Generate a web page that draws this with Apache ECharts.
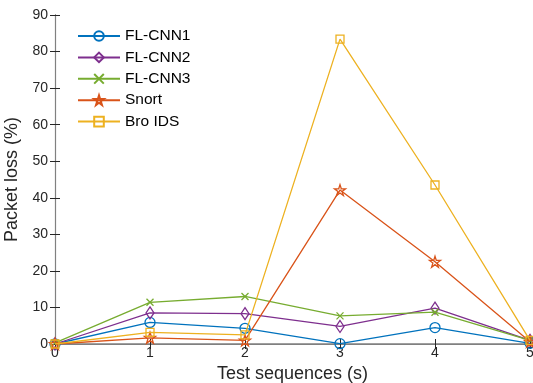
<!DOCTYPE html>
<html><head><meta charset="utf-8">
<script src="https://cdn.jsdelivr.net/npm/echarts@6/dist/echarts.min.js"></script>
<style>html,body{margin:0;padding:0;background:#fff}#c{width:533px;height:383px}</style>
</head><body><div id="c"></div>
<script>
var xValues = [0, 1, 2, 3, 4, 5];
var seriesNames = ['FL-CNN1', 'FL-CNN2', 'FL-CNN3', 'Snort', 'Bro IDS'];
var flCnn1 = [0, 5.9, 4.3, 0.1, 4.5, 0.2];
var flCnn2 = [0, 8.5, 8.3, 4.8, 9.8, 1.0];
var flCnn3 = [0.3, 11.4, 13.0, 7.7, 8.7, 1.0];
var snort = [0, 1.7, 1.0, 42.1, 22.5, 0.6];
var broIds = [0, 3.2, 2.5, 83.4, 43.5, 1.0];
var yTicks = [0, 10, 20, 30, 40, 50, 60, 70, 80, 90];

var colors = ['#0072BD', '#7E2F8E', '#77AC30', '#D95319', '#EDB120'];
var symbols = [
  'circle',
  'diamond',
  'path://M0,0L10,10M10,0L0,10',
  'path://M50,0L61.8,35.3L100,35.3L69.1,57.1L80.9,92.7L50,70.6L19.1,92.7L30.9,57.1L0,35.3L38.2,35.3Z',
  'rect'
];
var sizes = [[10, 10], [8, 12], [7, 7], [11, 11], [8, 8]];
var allData = [flCnn1, flCnn2, flCnn3, snort, broIds];

var chart = echarts.init(document.getElementById('c'), null, {renderer: 'canvas'});
var font = 'Liberation Sans';
var axisColor = '#262626';
var series = seriesNames.map(function (n, i) {
  return {
    name: n, type: 'line', xAxisIndex: 0, yAxisIndex: 0,
    data: xValues.map(function (x, k) { return [x, allData[i][k]]; }),
    symbol: symbols[i], symbolSize: sizes[i], showAllSymbol: true,
    lineStyle: {color: colors[i], width: 1.3},
    itemStyle: {color: 'rgba(255,255,255,0)', borderColor: colors[i], borderWidth: 1.3},
    emphasis: {disabled: true}, animation: false, z: 2 + i
  };
});
chart.setOption({
  animation: false,
  textStyle: {fontFamily: font},
  grid: {left: 55, right: 3, top: 15, bottom: 39, outerBoundsMode: 'none', containLabel: false},
  legend: {
    left: 72, top: 23, orient: 'vertical', itemWidth: 42, itemHeight: 12, itemGap: 5.4,
    textStyle: {fontSize: 15.5, lineHeight: 15, color: '#000', fontFamily: font},
    data: seriesNames
  },
  xAxis: [{
    type: 'value', min: 0, max: 5, interval: 1,
    name: 'Test sequences (s)', nameLocation: 'middle', nameGap: 19,
    nameTextStyle: {fontSize: 18, color: axisColor, fontFamily: font},
    axisLine: {onZero: false, lineStyle: {color: '#808080', width: 1.6}},
    axisTick: {inside: true, length: 5, lineStyle: {color: axisColor}},
    axisLabel: {fontSize: 14, color: axisColor, margin: 2},
    splitLine: {show: false}
  }, {
    type: 'value', position: 'top', min: 0, max: 5, interval: 1,
    axisLine: {show: true, lineStyle: {color: '#808080', width: 1.2}},
    axisTick: {inside: true, length: 5, lineStyle: {color: axisColor}},
    axisLabel: {show: false}, splitLine: {show: false}
  }],
  yAxis: [{
    type: 'value', min: 0, max: 90, interval: 10,
    name: 'Packet loss (%)', nameLocation: 'middle', nameGap: 31,
    nameTextStyle: {fontSize: 18, color: axisColor, fontFamily: font},
    axisLine: {show: true, onZero: false, lineStyle: {color: axisColor, width: 1}},
    axisTick: {inside: true, length: 5, lineStyle: {color: axisColor}},
    axisLabel: {fontSize: 14, color: axisColor, margin: 7},
    splitLine: {show: false}
  }, {
    type: 'value', position: 'right', min: 0, max: 90, interval: 10,
    axisLine: {show: true, lineStyle: {color: '#808080', width: 1.2}},
    axisTick: {inside: true, length: 5, lineStyle: {color: axisColor}},
    axisLabel: {show: false}, splitLine: {show: false}
  }],
  series: series
});
</script></body></html>
